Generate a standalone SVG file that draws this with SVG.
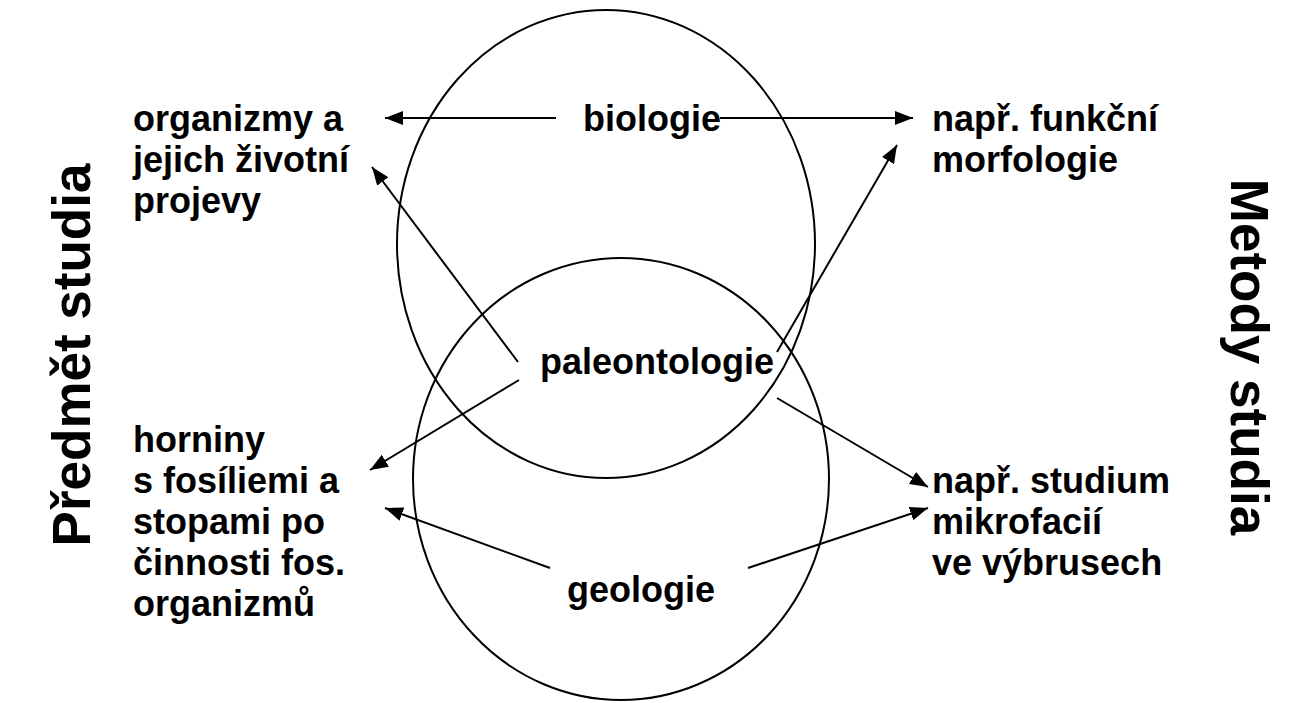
<svg xmlns="http://www.w3.org/2000/svg" width="1309" height="703" viewBox="0 0 1309 703">
<defs>
<style>
text{font-family:"Liberation Sans",Arial,sans-serif;font-weight:bold;fill:#000}
.t{font-size:36px}
.v{font-size:53px}
.c{fill:none;stroke:#000;stroke-width:2}
.a{fill:none;stroke:#000;stroke-width:2;marker-end:url(#ah)}
</style>
<marker id="ah" viewBox="0 0 18 14" refX="18" refY="7" markerWidth="18" markerHeight="14" markerUnits="userSpaceOnUse" orient="auto"><path d="M0,0 L18,7 L0,14 z" fill="#000"/></marker>
</defs>
<rect width="1309" height="703" fill="#fff"/>
<g id="circles">
<ellipse id="circle-biologie" class="c" cx="606" cy="244" rx="209" ry="234"/>
<ellipse id="circle-geologie" class="c" cx="621" cy="479" rx="208" ry="221"/>
</g>
<g id="connectors">
<line class="a" x1="556" y1="118" x2="385" y2="118"/>
<line class="a" x1="720" y1="118" x2="913" y2="118"/>
<line class="a" x1="518" y1="362" x2="372" y2="167"/>
<line class="a" x1="777" y1="352" x2="897" y2="145"/>
<line class="a" x1="519" y1="380" x2="370" y2="470"/>
<line class="a" x1="777" y1="398" x2="928" y2="487"/>
<line class="a" x1="550" y1="568" x2="385" y2="508"/>
<line class="a" x1="748" y1="568" x2="928" y2="508"/>
</g>
<g id="node-biologie"><text class="t" x="583" y="131">biologie</text></g>
<g id="node-paleontologie"><text class="t" x="540" y="374">paleontologie</text></g>
<g id="node-geologie"><text class="t" x="567" y="602">geologie</text></g>
<g id="node-organizmy"><text class="t" x="133" y="131">organizmy a</text><text class="t" x="133" y="172">jejich životní</text><text class="t" x="133" y="213">projevy</text></g>
<g id="node-funkcni"><text class="t" x="932" y="131">např. funkční</text><text class="t" x="932" y="172">morfologie</text></g>
<g id="node-horniny"><text class="t" x="133" y="452">horniny</text><text class="t" x="133" y="493">s fosíliemi a</text><text class="t" x="133" y="534">stopami po</text><text class="t" x="133" y="575">činnosti fos.</text><text class="t" x="133" y="616">organizmů</text></g>
<g id="node-studium"><text class="t" x="932" y="493">např. studium</text><text class="t" x="932" y="534">mikrofacií</text><text class="t" x="932" y="575">ve výbrusech</text></g>
<g id="label-predmet"><text class="v" text-anchor="middle" transform="translate(90,355) rotate(-90)">Předmět studia</text></g>
<g id="label-metody"><text class="v" text-anchor="middle" transform="translate(1231,357) rotate(90)">Metody studia</text></g>
</svg>
